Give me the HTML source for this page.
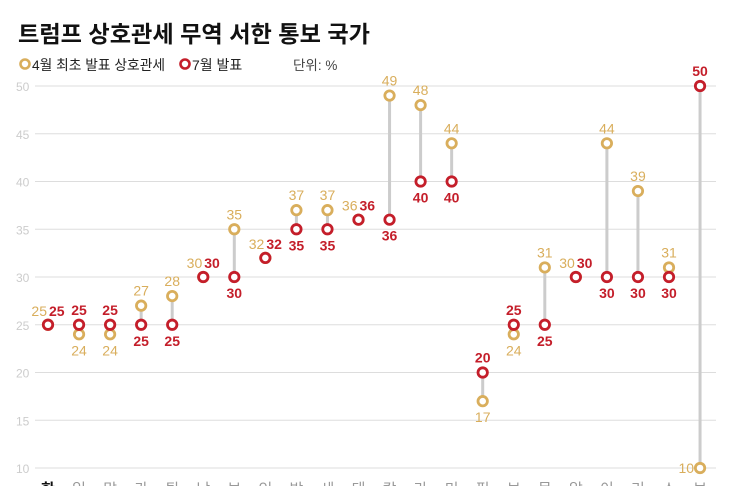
<!DOCTYPE html>
<html><head><meta charset="utf-8"><style>
body{margin:0;background:#fff;width:741px;height:486px;overflow:hidden}
svg{display:block}
text{font-family:"Liberation Sans","Noto Sans CJK KR",sans-serif}
</style></head><body>
<svg width="741" height="486" viewBox="0 0 741 486">
<text x="18" y="42" font-size="23" font-weight="bold" fill="#111" textLength="352" lengthAdjust="spacingAndGlyphs">트럼프 상호관세 무역 서한 통보 국가</text>
<circle cx="25" cy="64" r="4.5" fill="#fff" stroke="#d9ae5c" stroke-width="2.6"/>
<text x="32" y="70" font-size="14" fill="#222" textLength="133" lengthAdjust="spacingAndGlyphs">4월 최초 발표 상호관세</text>
<circle cx="185" cy="64" r="4.5" fill="#fff" stroke="#c41e2a" stroke-width="2.6"/>
<text x="192" y="70" font-size="14" fill="#222">7월 발표</text>
<text x="293" y="70" font-size="13.5" fill="#444">단위: %</text>
<g id="c"></g>
</svg>
<script>
const ns="http://www.w3.org/2000/svg",g=document.getElementById("c");
function el(t,a,txt){const e=document.createElementNS(ns,t);for(const k in a)e.setAttribute(k,a[k]);if(txt!==undefined)e.textContent=txt;g.appendChild(e);return e}
const Y=v=>468-(v-10)*9.55, GOLD="#d9ae5c", RED="#c41e2a";
for(let v=10;v<=50;v+=5){el("line",{x1:35,x2:716,y1:Y(v),y2:Y(v),stroke:"#ddd","stroke-width":1});el("text",{x:16,y:Y(v)+5,"font-size":12,fill:"#ccc"},v)}
const d=[[25,25,"한"],[24,25,"일"],[24,25,"말"],[27,25,"카"],[28,25,"튀"],[30,30,"남"],[35,30,"보"],[32,32,"인"],[37,35,"방"],[37,35,"세"],[36,36,"태"],[49,36,"캄"],[48,40,"라"],[44,40,"미"],[17,20,"필"],[24,25,"브"],[31,25,"몰"],[30,30,"알"],[44,30,"이"],[39,30,"리"],[31,30,"스"],[10,50,"브"]];
d.forEach((r,i)=>{const x=48+31.05*i,[a,b,n]=r,ya=Y(a),yb=Y(b);
 el("text",{x:x,y:494,"font-size":15,"text-anchor":"middle",fill:i==0?"#111":"#999","font-weight":i==0?"bold":"normal"},n);
 if(a!=b)el("line",{x1:x,x2:x,y1:ya,y2:yb,stroke:"#ccc","stroke-width":3});
 el("circle",{cx:x,cy:ya,r:4.7,fill:"#fff",stroke:GOLD,"stroke-width":2.8});
 el("circle",{cx:x,cy:yb,r:4.7,fill:"#fff",stroke:RED,"stroke-width":2.8});
 if(a==b){el("text",{x:x-1,y:ya-9,"font-size":14,"text-anchor":"end",fill:GOLD},a);el("text",{x:x+1,y:yb-9,"font-size":14,"font-weight":"bold",fill:RED},b)}
 else if(i==21){el("text",{x:x-6,y:ya+5,"font-size":14,"text-anchor":"end",fill:GOLD},a);el("text",{x:x,y:yb-10,"font-size":14,"text-anchor":"middle","font-weight":"bold",fill:RED},b)}
 else if(a>b){el("text",{x:x,y:ya-10,"font-size":14,"text-anchor":"middle",fill:GOLD},a);el("text",{x:x,y:yb+21,"font-size":14,"text-anchor":"middle","font-weight":"bold",fill:RED},b)}
 else{el("text",{x:x,y:yb-10,"font-size":14,"text-anchor":"middle","font-weight":"bold",fill:RED},b);el("text",{x:x,y:ya+21,"font-size":14,"text-anchor":"middle",fill:GOLD},a)}
});
</script>
</body></html>
